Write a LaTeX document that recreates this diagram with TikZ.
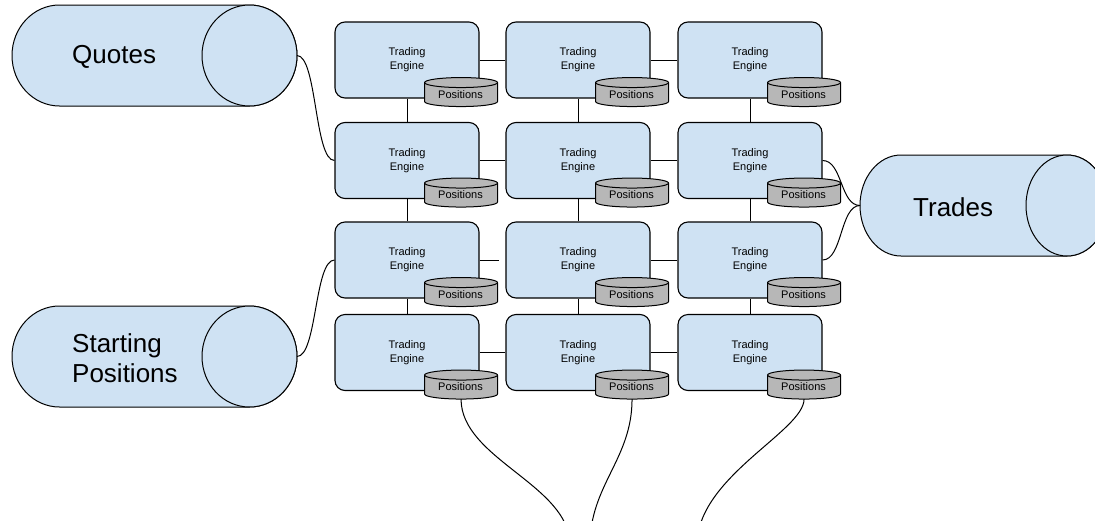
\documentclass[tikz,border=0pt]{standalone}
\usepackage{fontspec}
\setmainfont{Liberation Sans}
\usetikzlibrary{calc}
\definecolor{paleblue}{HTML}{CFE2F3}
\definecolor{diskgray}{HTML}{B7B7B7}
\begin{document}
\begin{tikzpicture}[x=1pt,y=-1pt,line join=round,
  engine/.style={draw, line width=1.1pt, fill=paleblue, rounded corners=10pt,
    minimum width=144pt, minimum height=76pt, inner sep=0pt, align=center,
    font=\fontsize{11}{14}\selectfont},
  disk/.style={draw, line width=1pt, fill=diskgray},
  disklabel/.style={inner sep=0pt, font=\fontsize{11}{13}\selectfont},
  store/.style={draw, line width=1pt, fill=paleblue},
  storelabel/.style={inner sep=0pt, anchor=west, align=left,
    font=\fontsize{26}{30}\selectfont},
  link/.style={draw, line width=1pt}]
\useasboundingbox (0,0) rectangle (1095,520);
\clip (0,0) rectangle (1095,520);

% ---- data stores (horizontal cylinders) ----
% Quotes
\path[store] (59.5,5) -- (249.5,5)
  arc[start angle=270, end angle=450, x radius=47.5, y radius=50.5]
  -- (59.5,106)
  arc[start angle=90, end angle=270, x radius=47.5, y radius=50.5] -- cycle;
\path[store] (249.5,55.5) ellipse[x radius=47.5, y radius=50.5];
\node[storelabel] (quotes) at (72,57) {Quotes};
\coordinate (quotesout) at (297,55.5);

% Starting Positions
\path[store] (59.5,306) -- (249.5,306)
  arc[start angle=270, end angle=450, x radius=47.5, y radius=50.5]
  -- (59.5,407)
  arc[start angle=90, end angle=270, x radius=47.5, y radius=50.5] -- cycle;
\path[store] (249.5,356.5) ellipse[x radius=47.5, y radius=50.5];
\node[storelabel] (startpos) at (72,358) {Starting\\Positions};
\coordinate (startout) at (297,356.5);

% Trades
\path[store] (901,155) -- (1067,155)
  arc[start angle=270, end angle=450, x radius=41, y radius=50.5]
  -- (901,256)
  arc[start angle=90, end angle=270, x radius=41, y radius=50.5] -- cycle;
\path[store] (1067,205.5) ellipse[x radius=41, y radius=50.5];
\node[storelabel] (trades) at (913,207) {Trades};
\coordinate (tradesin) at (860,205.5);

% ---- grid of trading engines, each with its positions store ----
\foreach \r/\y in {1/60,2/160.5,3/260,4/352.5}{
  \foreach \c/\x in {1/407,2/578,3/750}{
    \node[engine] (e\r\c) at (\x,\y) {Trading\\Engine};
    \begin{scope}[shift={(e\r\c.south east)}]
      \path[disk] (-55,-16) -- (-55,3)
        arc[start angle=180, end angle=0, x radius=36.5, y radius=5]
        -- (18,-16) -- cycle;
      \path[disk] (-18.5,-16) ellipse[x radius=36.5, y radius=5];
      \node[disklabel] (p\r\c) at (-19,-4) {Positions};
      \coordinate (pb\r\c) at (-18.5,8);
    \end{scope}
  }
}

% ---- links between neighbouring engines ----
\foreach \r in {1,2,4}{
  \draw[link] (e\r1) -- (e\r2);
  \draw[link] (e\r2) -- (e\r3);
}
\draw[link, shorten >=6pt] (e31) -- (e32);
\draw[link] (e32) -- (e33);
\foreach \c in {1,2,3}{
  \draw[link] (e1\c) -- (e2\c);
  \draw[link] (e2\c) -- (e3\c);
  \draw[link] (e3\c) -- (e4\c);
}

% ---- feeds in and out ----
\draw[link] (quotesout) .. controls +(20,0) and +(-20,0) .. (e21.west);
\draw[link] (startout) .. controls +(20,0) and +(-20,0) .. (e31.west);
\draw[link] (e23.east) .. controls +(20,0) and +(-20,0) .. (tradesin);
\draw[link] (e33.east) .. controls +(20,0) and +(-20,0) .. (tradesin);

% ---- position stores running off below ----
\coordinate (down1) at (570,545);
\coordinate (down2) at (590,545);
\coordinate (down3) at (697,545);
\draw[link] (pb41) .. controls +(0,60) and +(0,-60) .. (down1);
\draw[link] (pb42) .. controls +(0,60) and +(0,-60) .. (down2);
\draw[link] (pb43) .. controls +(0,32) and +(0,-68) .. (down3);
\end{tikzpicture}
\end{document}
